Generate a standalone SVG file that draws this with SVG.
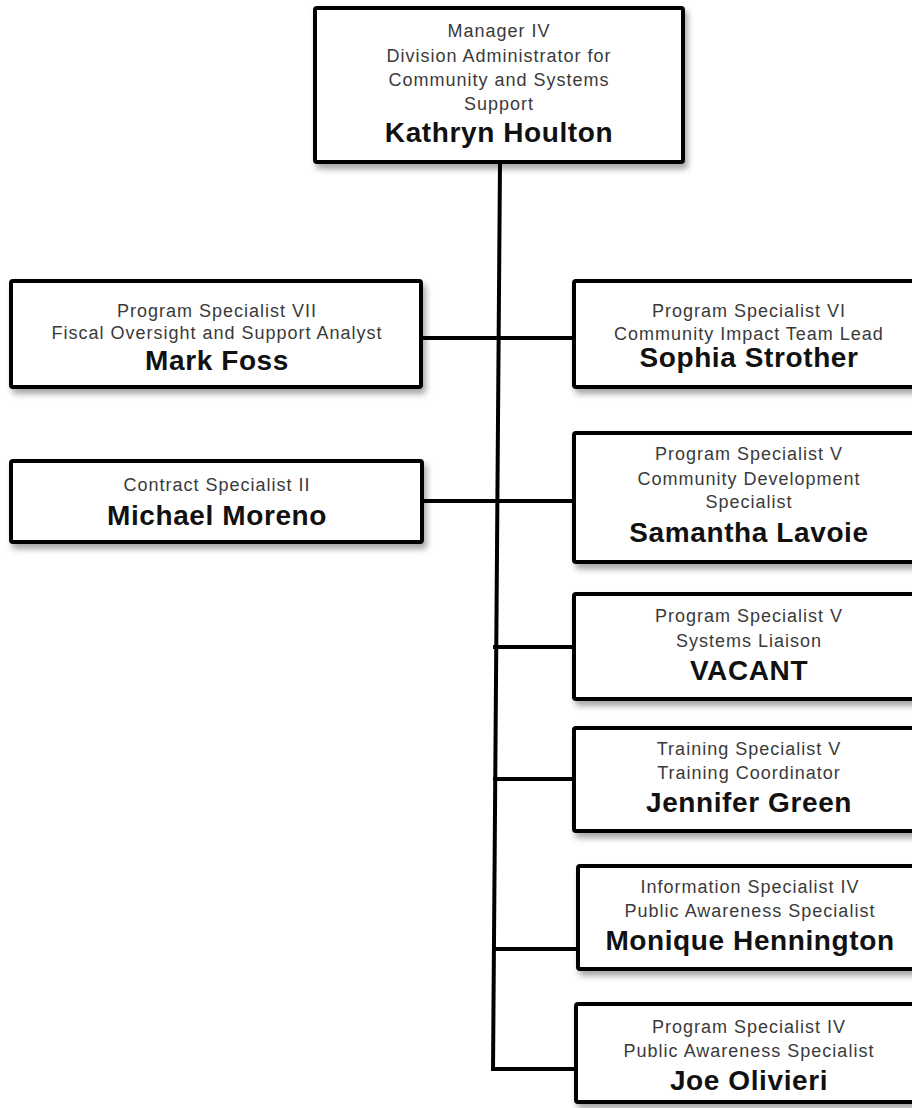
<svg xmlns="http://www.w3.org/2000/svg" width="912" height="1108" viewBox="0 0 912 1108">
<defs>
<filter id="sh" x="-10%" y="-10%" width="130%" height="140%">
<feDropShadow dx="3" dy="5" stdDeviation="3" flood-color="#000" flood-opacity="0.35"/>
</filter>
<style>
.box{fill:#fff;stroke:#000;stroke-width:4;filter:url(#sh)}
.t{font-family:"Liberation Sans",Arial,sans-serif;font-size:18px;letter-spacing:1px;fill:#3a3a3a;text-anchor:middle}
.n{font-family:"Liberation Sans",Arial,sans-serif;font-size:28px;font-weight:bold;letter-spacing:0.6px;fill:#111;text-anchor:middle}
.c{stroke:#000;stroke-width:4;fill:none}
</style>
</defs>
<rect width="912" height="1108" fill="#fff"/>
<g id="connectors">
<line class="c" x1="500" y1="162" x2="493" y2="1071"/>
<line class="c" x1="421" y1="338" x2="574" y2="338"/>
<line class="c" x1="422" y1="501" x2="574" y2="501"/>
<line class="c" x1="493" y1="647" x2="574" y2="647"/>
<line class="c" x1="493" y1="779" x2="574" y2="779"/>
<line class="c" x1="493" y1="949" x2="578" y2="949"/>
<line class="c" x1="491" y1="1069" x2="576" y2="1069"/>
</g>
<g id="kathryn">
<rect class="box" x="315" y="8" width="368" height="154" rx="2"/>
<text class="t" x="499" y="37">Manager IV</text>
<text class="t" x="499" y="62">Division Administrator for</text>
<text class="t" x="499" y="86">Community and Systems</text>
<text class="t" x="499" y="110">Support</text>
<text class="n" x="499" y="142">Kathryn Houlton</text>
</g>
<g id="mark">
<rect class="box" x="11" y="281" width="410" height="106" rx="2"/>
<text class="t" x="217" y="317">Program Specialist VII</text>
<text class="t" x="217" y="339">Fiscal Oversight and Support Analyst</text>
<text class="n" x="217" y="370">Mark Foss</text>
</g>
<g id="sophia">
<rect class="box" x="574" y="281" width="360" height="106" rx="2"/>
<text class="t" x="749" y="317">Program Specialist VI</text>
<text class="t" x="749" y="340">Community Impact Team Lead</text>
<text class="n" x="749" y="367">Sophia Strother</text>
</g>
<g id="michael">
<rect class="box" x="11" y="461" width="411" height="81" rx="2"/>
<text class="t" x="217" y="491">Contract Specialist II</text>
<text class="n" x="217" y="525">Michael Moreno</text>
</g>
<g id="samantha">
<rect class="box" x="574" y="433" width="360" height="129" rx="2"/>
<text class="t" x="749" y="460">Program Specialist V</text>
<text class="t" x="749" y="485">Community Development</text>
<text class="t" x="749" y="508">Specialist</text>
<text class="n" x="749" y="542">Samantha Lavoie</text>
</g>
<g id="vacant">
<rect class="box" x="574" y="594" width="360" height="105" rx="2"/>
<text class="t" x="749" y="622">Program Specialist V</text>
<text class="t" x="749" y="647">Systems Liaison</text>
<text class="n" x="749" y="680">VACANT</text>
</g>
<g id="jennifer">
<rect class="box" x="574" y="728" width="360" height="103" rx="2"/>
<text class="t" x="749" y="755">Training Specialist V</text>
<text class="t" x="749" y="779">Training Coordinator</text>
<text class="n" x="749" y="812">Jennifer Green</text>
</g>
<g id="monique">
<rect class="box" x="578" y="866" width="360" height="103" rx="2"/>
<text class="t" x="750" y="893">Information Specialist IV</text>
<text class="t" x="750" y="917">Public Awareness Specialist</text>
<text class="n" x="750" y="950">Monique Hennington</text>
</g>
<g id="joe">
<rect class="box" x="576" y="1004" width="360" height="98" rx="2"/>
<text class="t" x="749" y="1033">Program Specialist IV</text>
<text class="t" x="749" y="1057">Public Awareness Specialist</text>
<text class="n" x="749" y="1090">Joe Olivieri</text>
</g>
</svg>
